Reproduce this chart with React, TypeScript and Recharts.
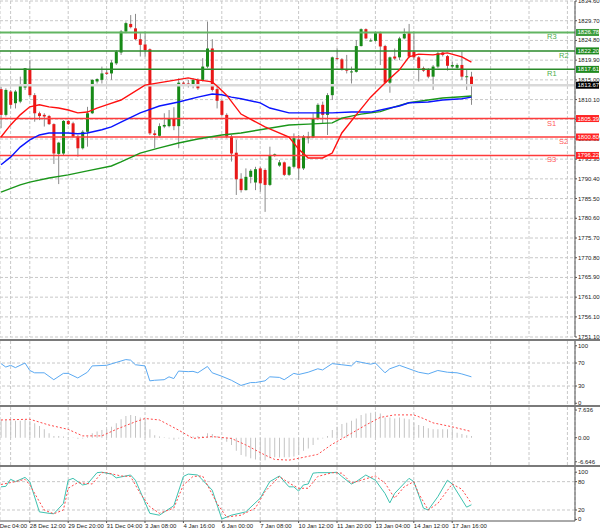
import React from "react";
import { ComposedChart, Bar, Line, XAxis, YAxis, CartesianGrid, ReferenceLine } from "recharts";

// 4h candles, 27 Dec 04:00 .. 17 Jan 16:00
const opens = [
  1812.7, 1806.3, 1812.1, 1809.2, 1809.6, 1813.1, 1817.5, 1811.2, 1806.7, 1806.3,
  1806.0, 1804.0, 1796.6, 1796.7, 1804.8, 1804.2, 1800.9, 1798.0, 1802.1, 1806.7,
  1814.6, 1815.0, 1816.8, 1816.6, 1819.1, 1821.8, 1827.0, 1828.9, 1827.8, 1825.1,
  1823.8, 1822.6, 1801.7, 1801.1, 1803.4, 1803.5, 1805.3, 1803.5, 1814.3, 1814.1,
  1813.5, 1815.0, 1815.0, 1818.3, 1822.8, 1812.7, 1809.8, 1806.3, 1800.9, 1796.9,
  1790.4, 1787.6, 1790.9, 1789.5, 1793.0, 1792.6, 1788.9, 1796.3, 1793.7, 1794.5,
  1791.4, 1793.4, 1800.2, 1793.0, 1800.5, 1800.7, 1805.4, 1808.8, 1806.3, 1811.2,
  1820.4, 1820.1, 1817.6, 1817.0, 1817.0, 1823.4, 1827.6, 1824.7, 1824.7, 1826.6,
  1823.4, 1814.3, 1820.8, 1820.6, 1825.3, 1826.6, 1822.0, 1820.6, 1817.9, 1817.6,
  1815.8, 1818.3, 1821.8, 1820.9, 1818.3, 1818.0, 1818.7, 1815.8, 1815.8,
];
const highs = [
  1813.3, 1812.9, 1812.5, 1812.5, 1815.8, 1817.9, 1819.9, 1811.7, 1807.1, 1806.7,
  1806.3, 1804.2, 1799.6, 1805.0, 1805.0, 1804.6, 1801.3, 1802.5, 1808.3, 1815.1,
  1815.4, 1818.3, 1817.5, 1819.9, 1822.4, 1827.4, 1829.5, 1831.1, 1831.4, 1826.6,
  1827.0, 1822.8, 1802.5, 1804.2, 1806.7, 1807.5, 1808.2, 1815.4, 1814.6, 1815.0,
  1815.4, 1815.4, 1820.4, 1829.5, 1825.1, 1813.7, 1810.0, 1806.7, 1801.3, 1800.1,
  1791.8, 1793.0, 1792.8, 1793.4, 1793.4, 1793.0, 1798.4, 1796.7, 1795.1, 1794.7,
  1793.6, 1801.7, 1801.3, 1801.3, 1802.1, 1806.7, 1809.2, 1809.6, 1811.7, 1820.8,
  1822.8, 1820.4, 1821.2, 1818.3, 1824.9, 1827.8, 1827.8, 1825.3, 1827.0, 1827.0,
  1823.7, 1820.8, 1822.8, 1825.7, 1827.8, 1828.9, 1827.0, 1820.9, 1818.3, 1817.9,
  1818.7, 1822.0, 1822.0, 1821.2, 1819.5, 1819.1, 1822.0, 1817.5, 1817.0,
];
const lows = [
  1803.0, 1805.9, 1807.9, 1807.9, 1809.2, 1812.5, 1810.8, 1804.6, 1805.0, 1803.4,
  1803.8, 1794.1, 1789.1, 1796.3, 1803.8, 1800.7, 1795.9, 1797.7, 1798.4, 1806.5,
  1814.1, 1814.1, 1816.2, 1815.0, 1818.7, 1821.2, 1826.6, 1827.8, 1824.9, 1820.8,
  1820.8, 1801.3, 1798.0, 1800.7, 1803.0, 1803.2, 1802.5, 1798.0, 1814.0, 1813.1,
  1812.9, 1812.5, 1814.6, 1817.9, 1812.1, 1807.9, 1806.0, 1800.5, 1794.7, 1786.4,
  1787.0, 1787.5, 1789.3, 1787.6, 1787.2, 1782.2, 1788.6, 1795.9, 1793.4, 1791.1,
  1791.1, 1793.0, 1790.1, 1792.6, 1799.2, 1800.5, 1805.0, 1804.2, 1801.3, 1810.0,
  1819.9, 1817.3, 1816.6, 1814.1, 1816.8, 1823.3, 1825.1, 1824.5, 1824.5, 1818.7,
  1814.1, 1811.8, 1819.9, 1819.9, 1825.1, 1820.4, 1819.9, 1814.6, 1817.0, 1815.4,
  1812.5, 1817.9, 1820.8, 1817.3, 1817.9, 1817.5, 1815.0, 1812.5, 1808.8,
];
const closes = [
  1806.3, 1812.5, 1808.8, 1812.1, 1813.5, 1817.9, 1811.2, 1806.7, 1806.0, 1805.9,
  1804.0, 1796.7, 1799.4, 1804.8, 1804.0, 1800.9, 1798.0, 1802.1, 1806.7, 1815.0,
  1815.2, 1816.6, 1816.5, 1819.3, 1822.0, 1827.0, 1829.1, 1828.1, 1825.1, 1823.7,
  1822.4, 1801.7, 1801.3, 1803.5, 1803.8, 1805.3, 1803.5, 1814.3, 1814.2, 1813.5,
  1815.0, 1812.9, 1818.3, 1822.8, 1812.5, 1809.8, 1806.3, 1800.9, 1796.7, 1790.3,
  1787.6, 1790.9, 1792.4, 1792.8, 1789.3, 1788.9, 1796.3, 1796.5, 1794.5, 1791.4,
  1793.4, 1800.5, 1793.0, 1800.9, 1800.9, 1805.4, 1808.8, 1806.3, 1811.2, 1820.6,
  1820.3, 1817.6, 1817.3, 1817.1, 1823.4, 1827.6, 1825.3, 1824.8, 1826.6, 1823.3,
  1814.3, 1820.6, 1820.3, 1825.3, 1826.4, 1820.8, 1820.6, 1817.9, 1817.3, 1815.8,
  1818.3, 1821.6, 1821.2, 1818.5, 1818.7, 1818.7, 1815.8, 1815.9, 1813.67,
];

// moving averages, read at the candles listed
const redMaIdx = [0, 2, 4, 6, 8, 10, 12, 14, 16, 18, 20, 22, 25, 30, 35, 39, 41, 44, 45, 47, 50, 55, 60, 62, 64, 67, 69, 71, 74, 77, 80, 83, 85, 87, 90, 93, 96, 98];
const redMaVal = [1800.8, 1803.8, 1806.3, 1808.3, 1808.8, 1808.3, 1808.0, 1807.5, 1806.8, 1807.0, 1808.0, 1808.8, 1810.0, 1813.7, 1814.7, 1815.5, 1815.0, 1814.5, 1813.5, 1811.2, 1806.5, 1803.3, 1800.8, 1797.8, 1795.6, 1795.6, 1796.8, 1801.8, 1806.3, 1810.7, 1814.2, 1817.5, 1820.7, 1821.4, 1821.2, 1821.7, 1820.7, 1819.4];
const blueMaIdx = [0, 2, 4, 6, 8, 10, 14, 16, 18, 21, 23, 25, 29, 33, 37, 41, 44, 46, 48, 50, 54, 56, 60, 64, 69, 73, 77, 81, 83, 85, 89, 92, 96, 98];
const blueMaVal = [1793.9, 1795.8, 1798.3, 1800.1, 1801.3, 1801.8, 1801.8, 1801.6, 1801.8, 1802.6, 1803.3, 1804.5, 1806.8, 1808.5, 1809.5, 1810.7, 1811.5, 1811.3, 1810.7, 1810.3, 1809.3, 1808.0, 1806.8, 1806.8, 1806.8, 1807.0, 1807.0, 1808.0, 1808.5, 1809.3, 1809.5, 1810.0, 1810.3, 1810.7];
const greenMaIdx = [0, 4, 6, 10, 14, 18, 23, 25, 29, 33, 37, 41, 46, 50, 54, 60, 64, 69, 71, 75, 79, 82, 85, 89, 92, 96, 98];
const greenMaVal = [1787.1, 1788.9, 1789.6, 1790.6, 1791.4, 1792.4, 1793.6, 1794.6, 1796.8, 1798.1, 1799.3, 1800.3, 1801.3, 1801.8, 1802.6, 1803.8, 1804.0, 1804.3, 1805.5, 1806.5, 1807.1, 1808.3, 1809.3, 1810.0, 1810.5, 1810.8, 1811.0];

// RSI
const rsiIdx = [0, 1, 2, 3, 5, 6, 7, 9, 11, 13, 14, 16, 18, 19, 22, 24, 26, 27, 28, 30, 31, 32, 34, 35, 36, 37, 39, 40, 41, 43, 44, 46, 48, 50, 52, 53, 55, 56, 58, 59, 61, 62, 64, 66, 67, 69, 71, 73, 74, 77, 78, 80, 81, 83, 86, 87, 89, 91, 93, 95, 96, 98];
const rsiVal = [69, 63, 66, 62, 70, 57, 53, 53, 41, 52, 52, 44, 54, 65, 66, 71, 76, 75, 67, 65, 39, 40, 41, 46, 43, 56, 55, 55.5, 53, 64, 53, 47, 40, 31, 36, 36, 39, 46, 45, 41, 52, 50, 54, 60, 58, 69, 67, 65, 73, 68, 70, 53, 60, 66, 57, 54, 51, 57, 54, 53, 51, 46];

// MACD histogram (every candle) and signal
const macdHist = [
  4.9, 4.9, 4.9, 4.7, 4.7, 4.9, 4.7, 4.0, 3.2, 2.3,
  1.2, 0.5, 0.5, 0.3, 0.1, -0.1, -0.3, -0.2, 0.3, 1.2,
  1.7, 2.1, 2.3, 3.0, 4.0, 5.1, 6.0, 6.3, 6.0, 5.6,
  5.1, 2.3, 0.7, 0.3, 0.1, -0.2, -0.6, -0.2, 0.1, 0.0,
  0.3, 0.5, 0.5, 1.2, 1.0, 0.5, -0.2, -1.1, -2.0, -3.6,
  -4.8, -5.2, -5.7, -6.0, -6.4, -6.2, -5.7, -5.4, -5.5, -5.4,
  -5.4, -5.2, -4.8, -3.6, -3.0, -2.0, -0.6, -0.2, 0.5, 2.1,
  3.0, 3.8, 4.1, 4.7, 5.3, 6.3, 6.7, 6.9, 7.2, 6.7,
  5.6, 5.6, 5.3, 5.6, 5.3, 5.1, 4.1, 3.5, 3.2, 2.6,
  2.3, 2.3, 2.3, 2.3, 2.1, 1.4, 1.0, 0.7, 0.5,
];
const macdSigIdx = [0, 6, 10, 14, 17, 21, 24, 28, 30, 33, 37, 40, 44, 48, 51, 55, 57, 60, 62, 66, 69, 73, 76, 79, 82, 86, 88, 90, 94, 98];
const macdSigVal = [4.9, 5.1, 3.5, 2.3, 0.5, 0.5, 2.3, 4.4, 5.3, 4.9, 2.1, -0.2, 0.3, -0.2, -2.0, -4.8, -6.0, -6.2, -5.7, -4.6, -1.8, 1.2, 3.5, 5.6, 6.3, 6.3, 5.3, 4.1, 3.0, 1.7];

// Stochastic %K and %D
const stochKIdx = [0, 1, 2, 3, 5, 6, 8, 10, 11, 13, 14, 15, 17, 18, 20, 21, 23, 24, 26, 27, 28, 31, 33, 36, 38, 39, 41, 44, 46, 48, 51, 54, 56, 58, 60, 61, 62, 63, 64, 65, 66, 69, 70, 71, 73, 74, 76, 78, 80, 81, 82, 85, 86, 88, 89, 91, 93, 94, 97, 98];
const stochKVal = [69, 70, 85, 80, 89, 80, 16, 13, 12, 34, 83, 87, 73, 75, 99, 100, 96, 88, 92, 94, 83, 13, 9, 29, 91, 96, 94, 62, 1, 9, 16, 45, 80, 92, 69, 69, 60, 73, 75, 98, 99, 99, 100, 91, 75, 80, 94, 83, 55, 35, 55, 87, 80, 24, 20, 48, 83, 75, 26, 31];
const stochDIdx = [0, 3, 5, 6, 9, 11, 13, 14, 16, 19, 21, 22, 25, 27, 29, 31, 33, 36, 38, 40, 42, 45, 47, 50, 53, 55, 58, 60, 62, 64, 66, 69, 71, 73, 75, 78, 80, 82, 84, 86, 87, 89, 91, 94, 96, 98];
const stochDVal = [74, 80, 85, 73, 20, 12, 20, 66, 78, 75, 99, 99, 92, 91, 55, 27, 13, 24, 73, 91, 92, 34, 5, 9, 24, 59, 91, 77, 66, 66, 91, 99, 98, 77, 83, 92, 77, 45, 69, 80, 55, 20, 34, 75, 64, 34];

// axis labels
const priceTicks = [1834.6, 1829.7, 1824.8, 1819.9, 1815.0, 1810.1, 1805.2, 1800.3, 1795.3, 1790.4, 1785.5, 1780.6, 1775.7, 1770.8, 1765.9, 1761.0, 1756.1, 1751.1];
const timeTickIdx = [-2, 6, 14, 22, 30, 38, 46, 54, 62, 70, 78, 86, 94];
const timeLabels = ["27 Dec 04:00", "28 Dec 12:00", "29 Dec 20:00", "31 Dec 04:00", "3 Jan 08:00", "4 Jan 16:00", "6 Jan 00:00", "7 Jan 08:00", "10 Jan 12:00", "11 Jan 20:00", "13 Jan 04:00", "14 Jan 12:00", "17 Jan 16:00"];
const gridIdx = [2, 6, 10, 14, 18, 22, 26, 30, 34, 38, 42, 46, 50, 54, 58, 62, 66, 70, 74, 78, 82, 86, 90, 94, 98, 102, 106, 110, 114, 118];

// pivot levels
const levelNames = ["R3", "R2", "R1", "S1", "S2", "S3"];
const levelValues = [1826.78, 1822.2, 1817.61, 1805.39, 1800.8, 1796.22];
const lastPrice = 1813.67;

const FONT = "'Liberation Sans', Arial, sans-serif";
const X_DOMAIN: [number, number] = [-0.208, 119.58];
const PRICE_DOMAIN: [number, number] = [1751.1, 1834.6];

const toMap = (idx: number[], val: number[]) => {
  const m: Record<number, number> = {};
  idx.forEach((k, j) => (m[k] = val[j]));
  return m;
};
const redMap = toMap(redMaIdx, redMaVal);
const blueMap = toMap(blueMaIdx, blueMaVal);
const greenMap = toMap(greenMaIdx, greenMaVal);
const rsiMap = toMap(rsiIdx, rsiVal);
const sigMap = toMap(macdSigIdx, macdSigVal);
const kMap = toMap(stochKIdx, stochKVal);
const dMap = toMap(stochDIdx, stochDVal);

const mainData = opens.map((o, i) => ({
  i, o, h: highs[i], l: lows[i], c: closes[i],
  ma1: redMap[i] ?? null, ma2: blueMap[i] ?? null, ma3: greenMap[i] ?? null,
}));
const rsiData = opens.map((_, i) => ({ i, rsi: rsiMap[i] ?? null }));
const macdData = macdHist.map((h, i) => ({ i, hist: h, sig: sigMap[i] ?? null }));
const stochData = opens.map((_, i) => ({ i, k: kMap[i] ?? null, d: dMap[i] ?? null }));

const Candle = (props: any) => {
  const { x, y, width, height, payload } = props;
  const { o, h, l, c } = payload;
  const top0 = Math.min(y, y + height);
  const hh = Math.abs(height);
  const cx = x + width / 2;
  const span = h - l || 1;
  const yOf = (v: number) => top0 + ((h - v) / span) * hh;
  const bTop = yOf(Math.max(o, c));
  const bBot = yOf(Math.min(o, c));
  return (
    <g>
      <line x1={cx} x2={cx} y1={top0} y2={top0 + hh} stroke="#8a8a8a" strokeWidth={1} />
      <rect x={cx - 1.5} y={bTop} width={3} height={Math.max(1, bBot - bTop)} fill={c >= o ? "#178a17" : "#e81818"} />
    </g>
  );
};

const RightTick = (props: any) => {
  const { x, y, payload, fmt } = props;
  return (
    <text x={x} y={y} dy={2} fontSize={6} fill="#222" fontFamily={FONT}>
      {fmt(payload.value)}
    </text>
  );
};

const TimeTick = (props: any) => {
  const { x, y, payload } = props;
  const k = timeTickIdx.indexOf(payload.value);
  return (
    <text x={x} y={y} dy={4.5} fontSize={6} fill="#222" fontFamily={FONT}>
      {timeLabels[k]}
    </text>
  );
};

const LevelTag = (props: any) => {
  const { viewBox, name, value, boxColor, nameColor, nameDx } = props;
  const { x, y, width } = viewBox;
  const right = x + width;
  return (
    <g>
      {name ? (
        <text x={right - nameDx} y={y + 7} fontSize={7.5} fill={nameColor} fontFamily={FONT}>
          {name}
        </text>
      ) : null}
      <rect x={right + 1} y={y - 3.5} width={23} height={7} fill={boxColor} />
      <text x={right + 2.5} y={y + 2} fontSize={6} fill="#fff" fontFamily={FONT}>
        {value.toFixed(2)}
      </text>
    </g>
  );
};

const hiddenX = (
  <XAxis type="number" dataKey="i" domain={X_DOMAIN} ticks={gridIdx} hide allowDataOverflow />
);
const axisStroke = "#555";
const levelStroke = (k: number) => (k === 0 ? "#62b562" : k < 3 ? "#2a8a2a" : "#ff3b3b");

function Panel({ top, children }: { top: number; children: React.ReactNode }) {
  return <div style={{ position: "absolute", left: 0, top }}>{children}</div>;
}

function Sep({ top }: { top: number }) {
  return <div style={{ position: "absolute", left: 0, top, width: 600, height: 2, background: "#7a7a7a" }} />;
}

export default function App() {
  return (
    <div style={{ position: "absolute", left: 0, top: 0, width: 600, height: 531, background: "#fff", overflow: "hidden" }}>
      <Panel top={0}>
        <ComposedChart width={600} height={340} data={mainData} margin={{ top: 1, right: 0, bottom: 3, left: 0 }}>
          <CartesianGrid stroke="#c8c8c8" strokeDasharray="3 2" />
          {hiddenX}
          <YAxis
            orientation="right"
            width={25}
            domain={PRICE_DOMAIN}
            ticks={priceTicks}
            interval={0}
            allowDataOverflow
            stroke={axisStroke}
            tickSize={2}
            tickMargin={1}
            tick={<RightTick fmt={(v: number) => v.toFixed(2)} />}
          />
          <ReferenceLine y={lastPrice} stroke="#d9d9d9" strokeWidth={2.5} />
          {levelValues.map((v, k) => (
            <ReferenceLine key={levelNames[k]} y={v} stroke={levelStroke(k)} strokeWidth={k === 0 ? 2 : 1.5} />
          ))}
          <Bar dataKey={(d: any) => [d.l, d.h]} barSize={3} shape={<Candle />} isAnimationActive={false} />
          <Line dataKey="ma3" stroke="#1a961a" strokeWidth={1.4} dot={false} connectNulls isAnimationActive={false} />
          <Line dataKey="ma2" stroke="#0a14ff" strokeWidth={1.4} dot={false} connectNulls isAnimationActive={false} />
          <Line dataKey="ma1" stroke="#ff1010" strokeWidth={1.4} dot={false} connectNulls isAnimationActive={false} />
        </ComposedChart>
      </Panel>
      {/* price tags and level names on top of the axis labels */}
      <Panel top={0}>
        <ComposedChart width={600} height={340} data={mainData} margin={{ top: 1, right: 0, bottom: 3, left: 0 }}>
          {hiddenX}
          <YAxis orientation="right" width={25} domain={PRICE_DOMAIN} allowDataOverflow axisLine={false} tickLine={false} tick={false} />
          <ReferenceLine y={lastPrice} stroke="none" label={<LevelTag value={lastPrice} boxColor="#000" />} />
          {levelValues.map((v, k) => {
            const res = k < 3;
            return (
              <ReferenceLine key={levelNames[k]} y={v} stroke="none"
                label={<LevelTag name={levelNames[k]} value={v}
                  boxColor={res ? (k === 0 ? "#3d9d3d" : "#1f8a1f") : "#ff2424"}
                  nameColor={res ? "#4cae4c" : "#ff5a5a"}
                  nameDx={k === 1 || k === 4 ? 16 : 28} />} />
            );
          })}
        </ComposedChart>
      </Panel>
      <Sep top={339} />
      <Panel top={341}>
        <ComposedChart width={600} height={64} data={rsiData} margin={{ top: 0, right: 0, bottom: 0, left: 0 }}>
          <CartesianGrid stroke="#c8c8c8" strokeDasharray="3 2" horizontal={false} />
          {hiddenX}
          <YAxis orientation="right" width={25} domain={[-3, 108.3]} ticks={[0, 30, 70, 100]} interval={0}
            allowDataOverflow stroke={axisStroke} tickSize={2} tickMargin={1}
            tick={<RightTick fmt={(v: number) => String(v)} />} />
          <ReferenceLine y={70} stroke="#c8c8c8" strokeDasharray="3 2" />
          <ReferenceLine y={30} stroke="#c8c8c8" strokeDasharray="3 2" />
          <Line dataKey="rsi" stroke="#5aa9f2" strokeWidth={1} dot={false} connectNulls isAnimationActive={false} />
        </ComposedChart>
      </Panel>
      <Sep top={405} />
      <Panel top={407}>
        <ComposedChart width={600} height={59} data={macdData} margin={{ top: 0, right: 0, bottom: 0, left: 0 }}>
          <CartesianGrid stroke="#c8c8c8" strokeDasharray="3 2" horizontal={false} />
          {hiddenX}
          <YAxis orientation="right" width={25} domain={[-7.82, 8.48]} ticks={[-6.646, 0, 7.636]} interval={0}
            allowDataOverflow stroke={axisStroke} tickSize={2} tickMargin={1}
            tick={<RightTick fmt={(v: number) => (v === 0 ? "0.00" : String(v))} />} />
          <Bar dataKey="hist" barSize={1} fill="#c4c4c4" isAnimationActive={false} />
          <Line dataKey="sig" stroke="#ff4a4a" strokeWidth={1} strokeDasharray="2 2" dot={false} connectNulls isAnimationActive={false} />
        </ComposedChart>
      </Panel>
      <Sep top={465} />
      <Panel top={467}>
        <ComposedChart width={600} height={64} data={stochData} margin={{ top: 0, right: 0, bottom: 0, left: 0 }}>
          <CartesianGrid stroke="#c8c8c8" strokeDasharray="3 2" horizontal={false} />
          <XAxis type="number" dataKey="i" domain={X_DOMAIN} ticks={timeTickIdx} interval={0} allowDataOverflow
            height={10} stroke={axisStroke} tickSize={2} tickMargin={0} tick={<TimeTick />} />
          <YAxis orientation="right" width={25} domain={[-3.3, 111]} ticks={[0, 20, 80, 100]} interval={0}
            allowDataOverflow stroke={axisStroke} tickSize={2} tickMargin={1}
            tick={<RightTick fmt={(v: number) => String(v)} />} />
          <ReferenceLine y={80} stroke="#c8c8c8" strokeDasharray="3 2" />
          <ReferenceLine y={20} stroke="#c8c8c8" strokeDasharray="3 2" />
          <Line dataKey="k" stroke="#3fc2b0" strokeWidth={1} dot={false} connectNulls isAnimationActive={false} />
          <Line dataKey="d" stroke="#ff4a4a" strokeWidth={1} strokeDasharray="2 2" dot={false} connectNulls isAnimationActive={false} />
        </ComposedChart>
      </Panel>
    </div>
  );
}
